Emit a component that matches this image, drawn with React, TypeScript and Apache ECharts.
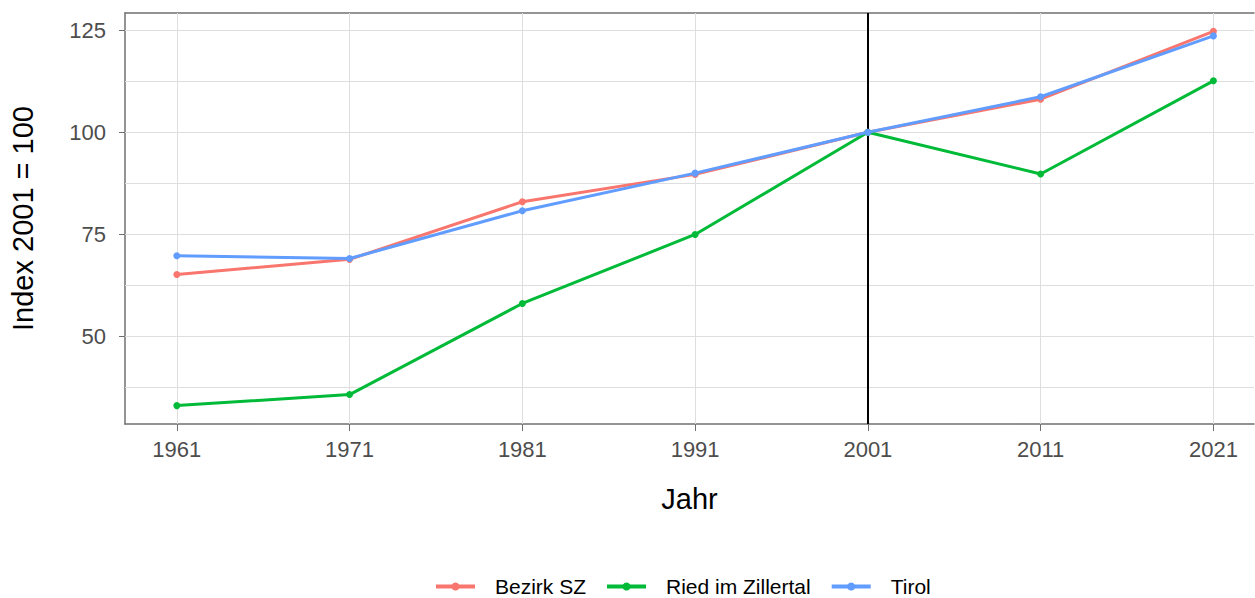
import React, { useEffect, useRef } from "react";
import * as echarts from "echarts";

const years = [1961, 1971, 1981, 1991, 2001, 2011, 2021];
const bezirkSZ = [65.2, 68.9, 83.0, 89.7, 100, 108.1, 124.7];
const ried = [33.1, 35.8, 58.1, 75.0, 100, 89.8, 112.6];
const tirol = [69.8, 69.1, 80.8, 90.0, 100, 108.7, 123.6];
const yTicks = [50, 75, 100, 125];
const yMinor = [37.5, 62.5, 87.5, 112.5];
const refYear = 2001;

const seriesNames = ["Bezirk SZ", "Ried im Zillertal", "Tirol"];
const seriesColors = ["#F8766D", "#00BA38", "#619CFF"];

const FONT = "'Liberation Sans', Arial, sans-serif";
const X_MIN = 1958;
const X_MAX = 2023.35;
const Y_MIN = 28.6;
const Y_MAX = 129.2;
const BORDER = "#707070";

export default function App() {
  const ref = useRef<HTMLDivElement>(null);
  useEffect(() => {
    if (!ref.current) return;
    const chart = echarts.init(ref.current, null, { renderer: "svg" });
    const pairs = (vals: number[]) => years.map((y, i) => [y, vals[i]]);
    const allData = [bezirkSZ, ried, tirol];
    const dataSeries = seriesNames.map((name, i) => ({
      name,
      type: "line",
      data: pairs(allData[i]),
      symbol: "circle",
      symbolSize: 7,
      lineStyle: { width: 3, color: seriesColors[i] },
      itemStyle: { color: seriesColors[i] },
      z: 5 + i,
    }));
    chart.setOption({
      animation: false,
      textStyle: { fontFamily: FONT },
      grid: {
        left: 123,
        top: 13,
        width: 1131,
        height: 411,
        show: false,
      },
      legend: {
        data: seriesNames,
        left: 429,
        top: 571,
        itemWidth: 39,
        itemHeight: 10,
        itemGap: 19,
        lineStyle: { width: 4 },
        textStyle: {
          fontSize: 21,
          color: "#000",
          fontFamily: FONT,
          padding: [0, 0, 0, 15],
        },
      },
      xAxis: [
        {
          type: "value",
          min: X_MIN,
          max: X_MAX,
          name: "Jahr",
          nameLocation: "middle",
          nameGap: 60,
          nameTextStyle: { fontSize: 29, color: "#000", fontFamily: FONT },
          axisLine: { show: true, onZero: false, lineStyle: { color: BORDER, width: 1.5 } },
          axisTick: { show: true, customValues: years, length: 7, lineStyle: { color: BORDER, width: 1 } },
          axisLabel: {
            customValues: years,
            fontSize: 22,
            color: "#4d4d4d",
            margin: 14,
            fontFamily: FONT,
            formatter: (v: number) => String(v),
          },
          splitLine: { show: false },
        },
        {
          type: "value",
          position: "top",
          min: X_MIN,
          max: X_MAX,
          axisLine: { show: true, onZero: false, lineStyle: { color: BORDER, width: 1.5 } },
          axisTick: { show: false },
          axisLabel: { show: false },
          splitLine: { show: false },
        },
      ],
      yAxis: {
        type: "value",
        min: Y_MIN,
        max: Y_MAX,
        name: "Index 2001 = 100",
        nameLocation: "middle",
        nameGap: 88,
        nameRotate: 90,
        nameTextStyle: { fontSize: 29, color: "#000", fontFamily: FONT },
        axisLine: { show: true, onZero: false, lineStyle: { color: BORDER, width: 1.5 } },
        axisTick: { show: true, customValues: yTicks, length: 6, lineStyle: { color: BORDER, width: 1 } },
        axisLabel: { customValues: yTicks, fontSize: 22, color: "#4d4d4d", margin: 19, fontFamily: FONT },
        splitLine: { show: false },
      },
      series: [
        {
          type: "line",
          data: [],
          silent: true,
          z: 1,
          markLine: {
            silent: true,
            symbol: "none",
            label: { show: false },
            lineStyle: { color: "#dedede", width: 1, type: "solid" },
            data: [
              ...yTicks.map((v) => ({ yAxis: v })),
              ...yMinor.map((v) => ({ yAxis: v })),
              ...years.map((v) => ({ xAxis: v })),
            ],
          },
        },
        {
          type: "line",
          data: [],
          silent: true,
          z: 2,
          markLine: {
            silent: true,
            symbol: "none",
            label: { show: false },
            lineStyle: { color: "#000", width: 2, type: "solid" },
            data: [{ xAxis: refYear }],
          },
        },
        ...dataSeries,
      ],
    });
    return () => chart.dispose();
  }, []);
  return (
    <div
      ref={ref}
      style={{ position: "fixed", left: 0, top: 0, width: 1255, height: 598, background: "#fff" }}
    />
  );
}
